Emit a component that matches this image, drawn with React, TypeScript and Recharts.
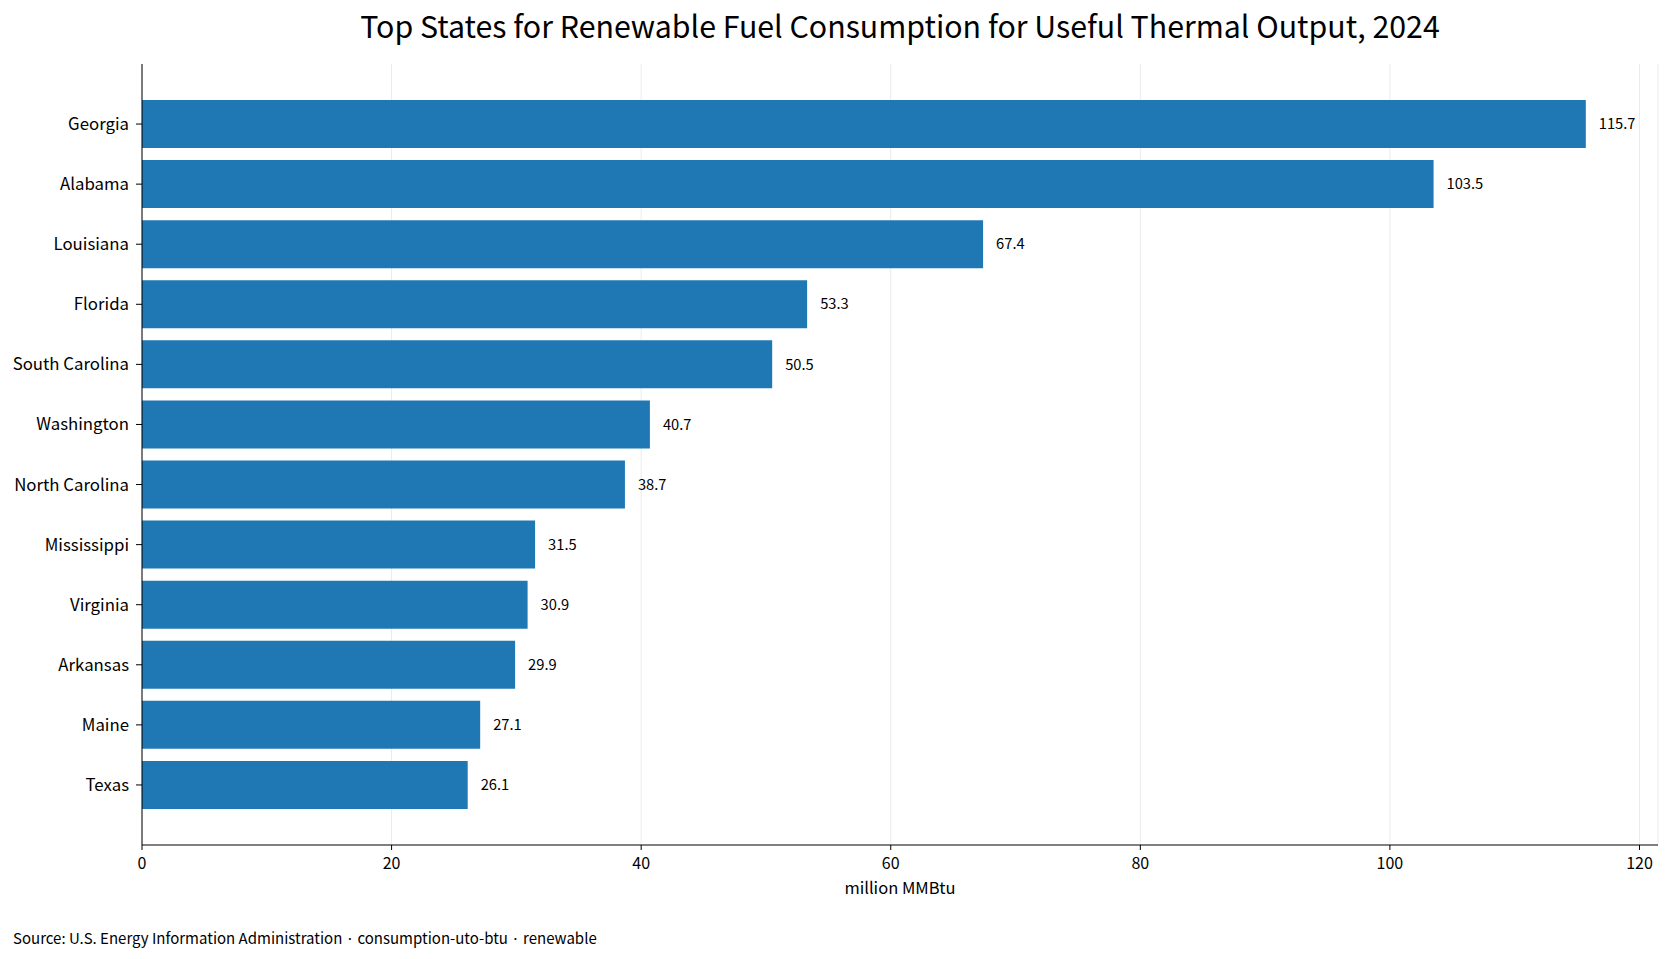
import { BarChart, Bar, XAxis, YAxis, CartesianGrid, LabelList } from "recharts";

const states = [
  "Georgia",
  "Alabama",
  "Louisiana",
  "Florida",
  "South Carolina",
  "Washington",
  "North Carolina",
  "Mississippi",
  "Virginia",
  "Arkansas",
  "Maine",
  "Texas",
];

const consumption = [115.7, 103.5, 67.4, 53.3, 50.5, 40.7, 38.7, 31.5, 30.9, 29.9, 27.1, 26.1];

const xTicks = [0, 20, 40, 60, 80, 100, 120];

const FONT = "'Noto Sans CJK JP', 'Noto Sans', sans-serif";

export default function App() {
  const data = states.map((state, i) => ({ state, value: consumption[i] }));
  const xMax = Math.max(...consumption) * 1.05;

  return (
    <div style={{ position: "relative", width: 1669, height: 959, background: "#fff", fontFamily: FONT }}>
      <style>{`body { margin: 0; }`}</style>
      <div
        style={{
          position: "absolute",
          top: 3,
          left: 0,
          width: 1800,
          textAlign: "center",
          fontSize: 30.3,
          color: "#000",
          whiteSpace: "nowrap",
        }}
      >
        Top States for Renewable Fuel Consumption for Useful Thermal Output, 2024
      </div>

      <BarChart
        width={1669}
        height={959}
        data={data}
        layout="vertical"
        margin={{ top: 64, right: 11, bottom: 65, left: 12 }}
        barCategoryGap="10%"
      >
        <CartesianGrid horizontal={false} stroke="#ebebeb" />
        <XAxis
          type="number"
          domain={[0, xMax]}
          ticks={xTicks}
          allowDataOverflow
          stroke="#000"
          tickSize={5}
          tickMargin={8}
          height={49}
          tick={{ fill: "#000", fontSize: 16, fontFamily: FONT }}
          label={{
            value: "million MMBtu",
            position: "insideBottom",
            offset: 0,
            fill: "#000",
            fontSize: 16.5,
            fontFamily: FONT,
          }}
        />
        <YAxis
          type="category"
          dataKey="state"
          width={130}
          stroke="#000"
          tickSize={6}
          tickMargin={7}
          padding={{ top: 30, bottom: 30 }}
          tick={{ fill: "#000", fontSize: 16.8, fontFamily: FONT }}
        />
        <Bar dataKey="value" fill="#1f77b4" isAnimationActive={false}>
          <LabelList
            dataKey="value"
            position="right"
            offset={13}
            fill="#000"
            fontSize={14.7}
            fontFamily={FONT}
            formatter={(v: number) => v.toFixed(1)}
          />
        </Bar>
      </BarChart>

      <div
        style={{
          position: "absolute",
          left: 13,
          top: 927,
          fontSize: 15,
          color: "#000",
          whiteSpace: "nowrap",
        }}
      >
        Source: U.S. Energy Information Administration · consumption-uto-btu · renewable
      </div>
    </div>
  );
}
